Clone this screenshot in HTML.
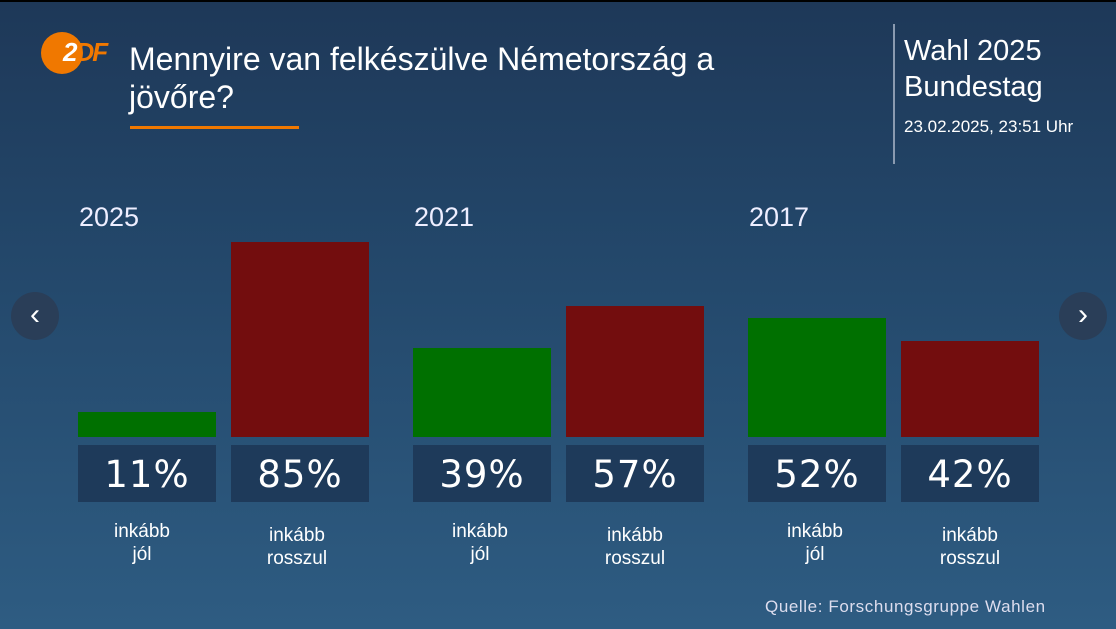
<!DOCTYPE html>
<html><head><meta charset="utf-8"><style>
body{margin:0;width:1116px;height:629px;overflow:hidden;font-family:"Liberation Sans",sans-serif;}
#c{position:relative;width:1116px;height:629px;background:linear-gradient(#1e3858 0%,#23476a 40%,#2e5c82 100%);color:#fff}
.a{position:absolute}
.bar{position:absolute;width:138px}
.g{background:#007000}.r{background:#730d0e}
.box{position:absolute;top:445px;width:138px;height:57px;background:#1e3a5a;font-size:37px;text-align:center;line-height:59px;letter-spacing:1px;font-family:"DejaVu Sans",sans-serif}
.lab{position:absolute;width:138px;text-align:center;font-size:19px;line-height:23px}
.yr{position:absolute;top:202px;font-size:27px;color:#eef}
.nav{position:absolute;top:292px;width:48px;height:48px;border-radius:50%;background:#2a3e58;font-size:30px;text-align:center;line-height:46px}
</style></head><body><div id="c">
<div class="a" style="left:0;top:0;width:1116px;height:2px;background:#000"></div>
<div class="a" style="left:41px;top:32px;width:42px;height:42px;border-radius:50%;background:#f07800"></div>
<div class="a" style="left:63px;top:37px;font-size:26px;font-weight:bold;color:#fff;letter-spacing:-2px;font-style:italic">2<span style="color:#f07800">DF</span></div>
<div class="a" style="left:129px;top:40px;font-size:32px;line-height:38px;width:660px">Mennyire van felkészülve Németország a jövőre?</div>
<div class="a" style="left:130px;top:126px;width:169px;height:3px;background:#f07800"></div>
<div class="a" style="left:893px;top:24px;width:2px;height:140px;background:#8a9ab0"></div>
<div class="a" style="left:904px;top:33px;font-size:29px;line-height:36px">Wahl 2025<br>Bundestag</div>
<div class="a" style="left:904px;top:117px;font-size:17px">23.02.2025, 23:51 Uhr</div>
<div class="yr" style="left:79px">2025</div><div class="yr" style="left:414px">2021</div><div class="yr" style="left:749px">2017</div>
<div class="bar g" style="left:78px;top:412px;height:25px"></div>
<div class="bar r" style="left:231px;top:242px;height:195px"></div>
<div class="bar g" style="left:413px;top:348px;height:89px"></div>
<div class="bar r" style="left:566px;top:306px;height:131px"></div>
<div class="bar g" style="left:748px;top:318px;height:119px"></div>
<div class="bar r" style="left:901px;top:341px;height:96px"></div>
<div class="box" style="left:78px">11%</div><div class="box" style="left:231px">85%</div>
<div class="box" style="left:413px">39%</div><div class="box" style="left:566px">57%</div>
<div class="box" style="left:748px">52%</div><div class="box" style="left:901px">42%</div>
<div class="lab" style="left:73px;top:520px">inkább<br>jól</div>
<div class="lab" style="left:228px;top:524px">inkább<br>rosszul</div>
<div class="lab" style="left:411px;top:520px">inkább<br>jól</div>
<div class="lab" style="left:566px;top:524px">inkább<br>rosszul</div>
<div class="lab" style="left:746px;top:520px">inkább<br>jól</div>
<div class="lab" style="left:901px;top:524px">inkább<br>rosszul</div>
<div class="nav" style="left:11px">&#8249;</div>
<div class="nav" style="left:1059px">&#8250;</div>
<div class="a" style="left:765px;top:597px;font-size:17px;letter-spacing:0.6px;color:#dde">Quelle: Forschungsgruppe Wahlen</div>
</div></body></html>
